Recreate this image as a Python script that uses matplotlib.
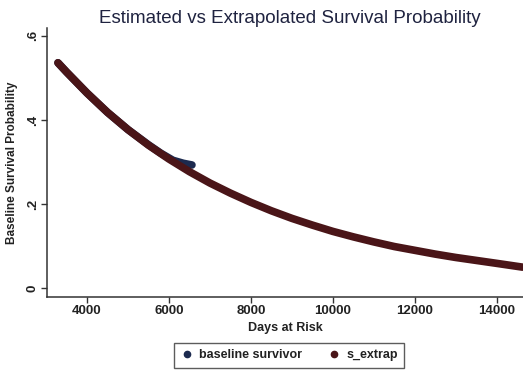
import matplotlib
matplotlib.use('Agg')
import matplotlib.pyplot as plt
from matplotlib.lines import Line2D

plt.rcParams['font.family'] = ['Liberation Sans', 'DejaVu Sans']

# estimated baseline survivor function (observed follow-up only)
dni_baseline = [3290, 3500, 4000, 4500, 5000, 5500, 5800, 6100, 6350, 6560]
s_baseline = [0.536, 0.514, 0.464, 0.418, 0.377, 0.341, 0.321, 0.304, 0.297, 0.293]

# extrapolated survival over the full horizon
dni_extrap = [3290, 3500, 4000, 4500, 5000, 5500, 6000, 6500, 7000, 7500,
              8000, 8500, 9000, 9500, 10000, 10500, 11000, 11500, 12000,
              12500, 13000, 13500, 14000, 14630]
s_extrap = [0.536, 0.514, 0.464, 0.418, 0.377, 0.340, 0.307, 0.277, 0.250, 0.226,
            0.204, 0.184, 0.166, 0.150, 0.135, 0.122, 0.110, 0.099, 0.090,
            0.081, 0.073, 0.066, 0.059, 0.050]

x_ticks = [4000, 6000, 8000, 10000, 12000, 14000]
y_ticks = [0, 0.2, 0.4, 0.6]
y_tick_labels = ['0', '.2', '.4', '.6']

MODRA = '#1c2a4f'
RDECA = '#4a1518'

fig = plt.figure(figsize=(5.23, 3.72), dpi=100)
ax = fig.add_axes([0.090, 0.2016, 0.910, 0.7234])

ax.plot(dni_baseline, s_baseline, color=MODRA, lw=5.5, solid_capstyle='round')
ax.plot(dni_extrap, s_extrap, color=RDECA, lw=5.5, solid_capstyle='round')

ax.set_xlim(3024, 14640)
ax.set_ylim(-0.021, 0.619)
ax.set_xticks(x_ticks)
ax.set_xticklabels([str(t) for t in x_ticks], fontsize=9.5, fontweight='bold', color='#222222')
ax.set_yticks(y_ticks)
ax.set_yticklabels(y_tick_labels, fontsize=9.5, fontweight='bold', color='#222222',
                   rotation=90, va='center')
ax.tick_params(direction='out', length=4, width=1, color='#333333', pad=2)

for s in ['top', 'right']:
    ax.spines[s].set_visible(False)
for s in ['left', 'bottom']:
    ax.spines[s].set_color('#333333')
    ax.spines[s].set_linewidth(1.1)

fig.text(0.555, 0.951, 'Estimated vs Extrapolated Survival Probability',
         ha='center', va='center', fontsize=13.5, color='#1f2340')
ax.set_xlabel('Days at Risk', fontsize=9, fontweight='bold', color='#222222', labelpad=3)
ax.set_ylabel('Baseline Survival Probability', fontsize=8.5, fontweight='bold',
              color='#222222', labelpad=6)

oznake = [Line2D([], [], ls='', marker='o', ms=4.5, color=MODRA),
          Line2D([], [], ls='', marker='o', ms=4.5, color=RDECA)]
leg = fig.legend(oznake, ['baseline survivor', 's_extrap'], ncol=2,
                 loc='center', bbox_to_anchor=(0.553, 0.045), fancybox=False,
                 edgecolor='#333333', handletextpad=0.5, columnspacing=2.0,
                 handlelength=1.0, borderpad=0.5,
                 prop={'size': 9, 'weight': 'bold'})
leg.get_frame().set_linewidth(1.0)
for t in leg.get_texts():
    t.set_color('#222222')

plt.savefig('out.png', dpi=100)
